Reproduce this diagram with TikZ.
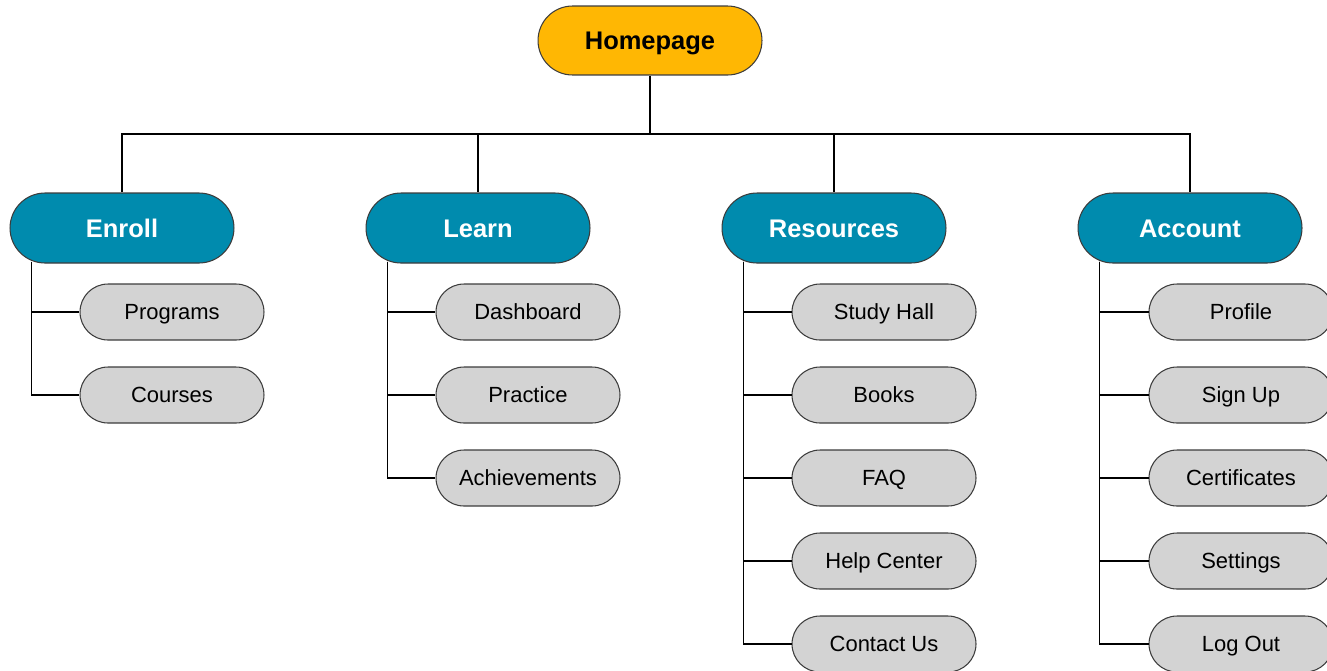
\documentclass[tikz,border=0pt]{standalone}
\usepackage{fontspec}
\setmainfont{Liberation Sans}
\definecolor{homeorange}{HTML}{FFB703}
\definecolor{sectionteal}{HTML}{008BAE}
\definecolor{pagegray}{HTML}{D3D3D3}
\definecolor{pilledge}{HTML}{3C3C3C}
\tikzset{
  homepill/.style={draw=pilledge, fill=homeorange, line width=0.6pt, rounded corners=0.69cm, minimum width=4.48cm, minimum height=1.38cm, inner sep=0pt, text height=10.4pt, text depth=0pt, font=\fontsize{14.5}{17}\selectfont\bfseries},
  sectionpill/.style={draw=pilledge, fill=sectionteal, text=white, line width=0.6pt, rounded corners=0.7cm, minimum width=4.48cm, minimum height=1.4cm, inner sep=0pt, text height=10.4pt, text depth=0pt, font=\fontsize{14.5}{17}\selectfont\bfseries},
  pagepill/.style={draw=pilledge, fill=pagegray, line width=0.6pt, rounded corners=0.56cm, minimum width=3.68cm, minimum height=1.12cm, inner sep=0pt, text height=9pt, text depth=0pt, font=\fontsize{12.5}{15}\selectfont},
  link/.style={draw=black, line width=0.6pt},
}

\begin{document}
\begin{tikzpicture}[x=0.02cm, y=-0.02cm]
\useasboundingbox (0,0) rectangle (1327,670);
\clip (0,0) rectangle (1327,670);
\node[homepill] (home) at (650,40.5) {Homepage};
\node[sectionpill] (enroll) at (122,228) {Enroll};
\node[sectionpill] (learn) at (478,228) {Learn};
\node[sectionpill] (resources) at (834,228) {Resources};
\node[sectionpill] (account) at (1190,228) {Account};
% enroll pages
\node[pagepill] (programs) at (172,312) {Programs};
\node[pagepill] (courses) at (172,395) {Courses};
% learn pages
\node[pagepill] (dashboard) at (528,312) {Dashboard};
\node[pagepill] (practice) at (528,395) {Practice};
\node[pagepill] (achievements) at (528,478) {Achievements};
% resources pages
\node[pagepill] (studyhall) at (884,312) {Study Hall};
\node[pagepill] (books) at (884,395) {Books};
\node[pagepill] (faq) at (884,478) {FAQ};
\node[pagepill] (helpcenter) at (884,561) {Help Center};
\node[pagepill] (contactus) at (884,644) {Contact Us};
% account pages
\node[pagepill] (profile) at (1241,312) {Profile};
\node[pagepill] (signup) at (1241,395) {Sign Up};
\node[pagepill] (certificates) at (1241,478) {Certificates};
\node[pagepill] (settings) at (1241,561) {Settings};
\node[pagepill] (logout) at (1241,644) {Log Out};
% top bus
\coordinate (bus) at (650,134);
\draw[link] (home) -- (bus);
\draw[link] (bus) -| (enroll);
\draw[link] (bus) -| (learn);
\draw[link] (bus) -| (resources);
\draw[link] (bus) -| (account);
% page branches
\draw[link] (enroll.south west) ++(22,-2) |- (programs);
\draw[link] (enroll.south west) ++(22,-2) |- (courses);
\draw[link] (learn.south west) ++(22,-2) |- (dashboard);
\draw[link] (learn.south west) ++(22,-2) |- (practice);
\draw[link] (learn.south west) ++(22,-2) |- (achievements);
\draw[link] (resources.south west) ++(22,-2) |- (studyhall);
\draw[link] (resources.south west) ++(22,-2) |- (books);
\draw[link] (resources.south west) ++(22,-2) |- (faq);
\draw[link] (resources.south west) ++(22,-2) |- (helpcenter);
\draw[link] (resources.south west) ++(22,-2) |- (contactus);
\draw[link] (account.south west) ++(22,-2) |- (profile);
\draw[link] (account.south west) ++(22,-2) |- (signup);
\draw[link] (account.south west) ++(22,-2) |- (certificates);
\draw[link] (account.south west) ++(22,-2) |- (settings);
\draw[link] (account.south west) ++(22,-2) |- (logout);
\end{tikzpicture}
\end{document}
